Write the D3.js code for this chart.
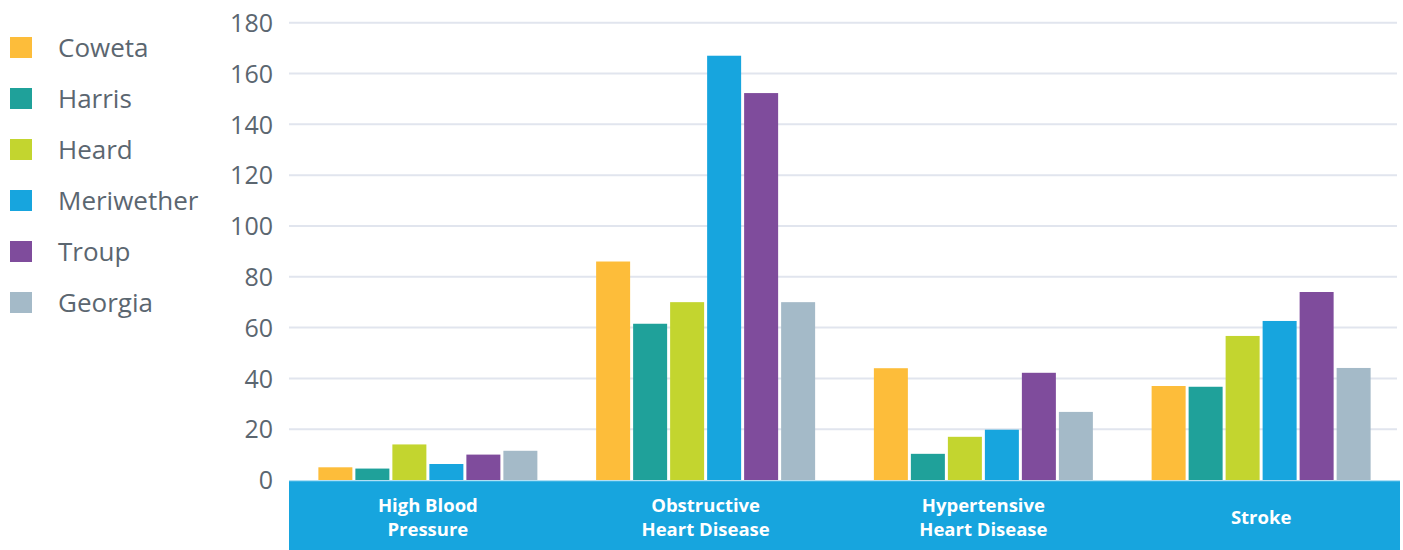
<!DOCTYPE html>
<html><head><meta charset="utf-8">
<script src="https://cdn.jsdelivr.net/npm/d3@7"></script>
<style>
html,body{margin:0;padding:0;background:#fff;}
svg{display:block;font-family:"Open Sans","Lato",sans-serif;}
</style></head>
<body><svg id="chart" width="1403" height="550"></svg>
<script>
const categories = ["High Blood|Pressure", "Obstructive|Heart Disease", "Hypertensive|Heart Disease", "Stroke"];
const series = ["Coweta", "Harris", "Heard", "Meriwether", "Troup", "Georgia"];
const colors = ["#FDBD3A", "#1FA19A", "#C3D52F", "#17A5DE", "#7F4C9C", "#A4BAC8"];
const coweta     = [5, 86, 44, 37];
const harris     = [4.5, 61.5, 10.3, 36.7];
const heard      = [14, 70, 17, 56.7];
const meriwether = [6.3, 167, 19.8, 62.6];
const troup      = [10, 152.3, 42.2, 74];
const georgia    = [11.5, 70, 26.8, 44.1];
const yTicks = [0, 20, 40, 60, 80, 100, 120, 140, 160, 180];

const values = [coweta, harris, heard, meriwether, troup, georgia];
const svg = d3.select("#chart");
const x0 = d3.scaleBand().domain(categories).range([289, 1400]).padding(0);
const groupW = 219;
const off = (x0.bandwidth() - groupW) / 2;
const x1 = d3.scaleBand().domain(series).range([off, off + groupW]).paddingInner(3/37).paddingOuter(0);
const y = d3.scaleLinear().domain([0, 180]).range([480, 22.7]);
const color = d3.scaleOrdinal().domain(series).range(colors);

// axis labels + gridlines
const yAxis = d3.axisLeft(y).tickValues(yTicks).tickSize(0).tickPadding(0);
const gy = svg.append("g").attr("transform", "translate(273,0)").call(yAxis);
gy.select(".domain").remove();
gy.selectAll("text").attr("fill", "#5B6670").attr("font-size", 25).attr("font-family", "'Open Sans', sans-serif").attr("x", 0).attr("dy", "0.35em");
svg.append("g").selectAll("line").data(yTicks.filter(d => d > 0)).join("line")
  .attr("x1", 289).attr("x2", 1397)
  .attr("y1", d => y(d)).attr("y2", d => y(d))
  .attr("stroke", "#E1E5EE").attr("stroke-width", 2);

// bars
const groups = svg.append("g").selectAll("g").data(categories).join("g")
  .attr("transform", d => `translate(${x0(d)},0)`);
groups.selectAll("rect").data((c, ci) => series.map((s, si) => ({s, v: values[si][ci]}))).join("rect")
  .attr("x", d => x1(d.s)).attr("width", x1.bandwidth())
  .attr("y", d => y(d.v)).attr("height", d => y(0) - y(d.v))
  .attr("fill", d => color(d.s));

// category band
svg.append("rect").attr("x", 289).attr("y", 481).attr("width", 1400 - 289).attr("height", 69).attr("fill", "#17A5DE");
svg.append("line").attr("x1", 289).attr("x2", 1400).attr("y1", 481).attr("y2", 481).attr("stroke", "#5EC1EA").attr("stroke-width", 1);
const labLines = [];
categories.forEach(c => {
  const lines = c.split("|");
  lines.forEach((l, i) => labLines.push({c, l, y: lines.length === 1 ? 518 : 505.5 + i * 24}));
});
svg.append("g").selectAll("text").data(labLines).join("text")
  .attr("x", d => x0(d.c) + x0.bandwidth() / 2).attr("y", d => d.y).attr("dy", "0.35em")
  .attr("text-anchor", "middle").attr("fill", "#fff").attr("font-weight", "bold").attr("font-size", 18.5)
  .text(d => d.l);

// legend
const leg = svg.append("g").selectAll("g").data(series).join("g")
  .attr("transform", (d, i) => `translate(10,${47.5 + i * 51})`);
leg.append("rect").attr("x", 0).attr("y", -10.5).attr("width", 22).attr("height", 21).attr("fill", d => color(d));
leg.append("text").attr("x", 48).attr("dy", "0.35em").attr("font-size", 26).attr("fill", "#5B6670").text(d => d);
</script></body></html>
